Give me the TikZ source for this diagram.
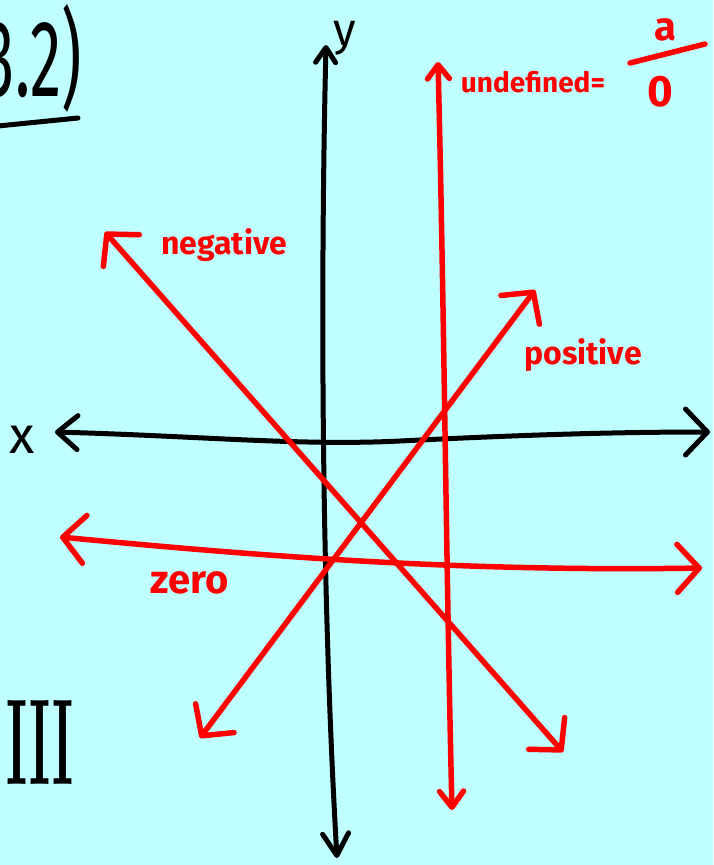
\documentclass[tikz,border=0pt]{standalone}
\usepackage{fontspec}
\setsansfont{Fira Sans}
\usetikzlibrary{arrows.meta}
\definecolor{bgcyan}{RGB}{191,255,255}
\definecolor{pen}{RGB}{255,0,0}
\begin{document}
\begin{tikzpicture}[x=1pt,y=-1pt,
  blackline/.style={draw=black,line width=5pt,line cap=round,line join=round},
  redline/.style={draw=pen,line width=5.5pt,line cap=round,line join=round},
  bigtips/.style={{Straight Barb[length=22pt,width=48pt,round]}-{Straight Barb[length=22pt,width=48pt,round]}},
  smalltips/.style={{Straight Barb[length=14pt,width=22pt,round]}-{Straight Barb[length=16pt,width=24pt,round]}},
  redtext/.style={text=pen,inner sep=0pt,font=\sffamily\bfseries},
  blacktext/.style={text=black,inner sep=0pt,font=\sffamily}]
\fill[bgcyan] (0,0) rectangle (713,865);
\useasboundingbox (0,0) rectangle (713,865);
% heading
\node[blacktext,anchor=east] (head) at (82,58) {\resizebox{98pt}{92pt}{\sffamily 3.2)}};
\coordinate (ulA) at (-2,126);
\coordinate (ulB) at (78,118);
\draw[blackline] (ulA) -- (ulB);
\node[text=black,inner sep=0pt] (three) at (40,742) {\resizebox{66pt}{84pt}{\rmfamily\bfseries III}};
% axes
\coordinate (yTop) at (326,45);
\coordinate (yBot) at (337,858);
\coordinate (xL) at (55,432);
\coordinate (xR) at (710,432);
\draw[blackline,{Straight Barb[length=15pt,width=20pt,round]}-{Straight Barb[length=22pt,width=26pt,round]}] (yTop) .. controls (320,300) and (322,600) .. (yBot);
\draw[blackline,{Straight Barb[length=20pt,width=34pt,round]}-{Straight Barb[length=22pt,width=46pt,round]}] (xL) .. controls (200,436) and (300,446) .. (400,441) .. controls (500,436) and (600,432) .. (xR);
\node[blacktext] (xlab) at (22,440) {\fontsize{52}{52}\selectfont x};
\node[blacktext] (ylab) at (345,38) {\fontsize{46}{46}\selectfont y};
% red lines
\coordinate (vTop) at (438,62);
\coordinate (vBot) at (452,810);
\draw[redline,smalltips] (vTop) .. controls (444,300) and (446,560) .. (vBot);
\coordinate (nA) at (105,232);
\coordinate (nB) at (563,752);
\draw[redline,bigtips] (nA) -- (nB);
\coordinate (pA) at (535,290);
\coordinate (pB) at (200,738);
\draw[redline,bigtips] (pA) -- (pB);
\coordinate (zA) at (60,537);
\coordinate (zB) at (702,568);
\draw[redline,bigtips] (zA) .. controls (250,555) and (450,572) .. (zB);
% labels
\node[redtext] (neg) at (224,245) {\fontsize{32}{32}\selectfont negative};
\node[redtext] (pos) at (583,355) {\fontsize{32}{32}\selectfont positive};
\node[redtext] (zero) at (190,583) {\fontsize{40}{40}\selectfont zero};
\node[redtext] (undef) at (533,82) {\fontsize{28}{28}\selectfont undefined=};
\node[redtext] (na) at (665,30) {\fontsize{40}{40}\selectfont a};
\coordinate (fracA) at (630,63);
\coordinate (fracB) at (705,44);
\draw[redline] (fracA) -- (fracB);
\node[redtext] (nz) at (660,92) {\fontsize{44}{44}\selectfont 0};
\end{tikzpicture}
\end{document}
